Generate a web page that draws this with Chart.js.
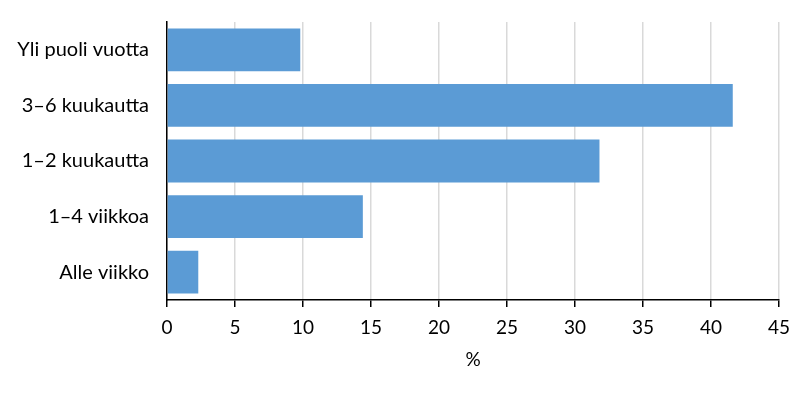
<!DOCTYPE html>
<html>
<head>
<meta charset="utf-8">
<script src="https://cdn.jsdelivr.net/npm/chart.js@4"></script>
<style>
  html, body { margin: 0; padding: 0; background: #fff; }
  #wrap { width: 812px; height: 400px; }
</style>
</head>
<body>
<div id="wrap"><canvas id="chart"></canvas></div>
<script>
// data
const categories = ["Yli puoli vuotta", "3–6 kuukautta", "1–2 kuukautta", "1–4 viikkoa", "Alle viikko"];
const shares = [9.8, 41.6, 31.8, 14.4, 2.3];
const xTicks = [0, 5, 10, 15, 20, 25, 30, 35, 40, 45];
const xTitle = "%";

const fontFamily = "Lato, 'Open Sans', sans-serif";

new Chart(document.getElementById("chart"), {
    type: 'bar',
    data: {
        labels: categories,
        datasets: [{
            data: shares,
            backgroundColor: '#5b9bd5',
            borderWidth: 0,
            categoryPercentage: 1,
            barPercentage: 0.77
        }]
    },
    options: {
        indexAxis: 'y',
        responsive: true,
        maintainAspectRatio: false,
        animation: false,
        layout: { padding: { top: 18, right: 33, bottom: 25, left: 0 } },
        plugins: {
            legend: { display: false },
            tooltip: { enabled: false }
        },
        scales: {
            x: {
                min: 0,
                max: 45,
                afterBuildTicks: scale => { scale.ticks = xTicks.map(v => ({ value: v })); },
                afterFit: scale => { scale.height = 75; },
                grid: {
                    color: '#d9d9d9',
                    lineWidth: 1.5,
                    tickColor: '#000',
                    tickLength: 7
                },
                border: { color: '#000', width: 1.5 },
                ticks: {
                    color: '#000',
                    padding: 9,
                    font: { family: fontFamily, size: 19 }
                },
                title: {
                    display: true,
                    text: xTitle,
                    color: '#000',
                    padding: { top: 4 },
                    font: { family: fontFamily, size: 19 }
                }
            },
            y: {
                afterFit: scale => { scale.width = 167; },
                grid: { display: false },
                border: { color: '#000', width: 1.5 },
                ticks: {
                    color: '#000',
                    padding: 10,
                    font: { family: fontFamily, size: 20 }
                }
            }
        }
    }
});
</script>
</body>
</html>
